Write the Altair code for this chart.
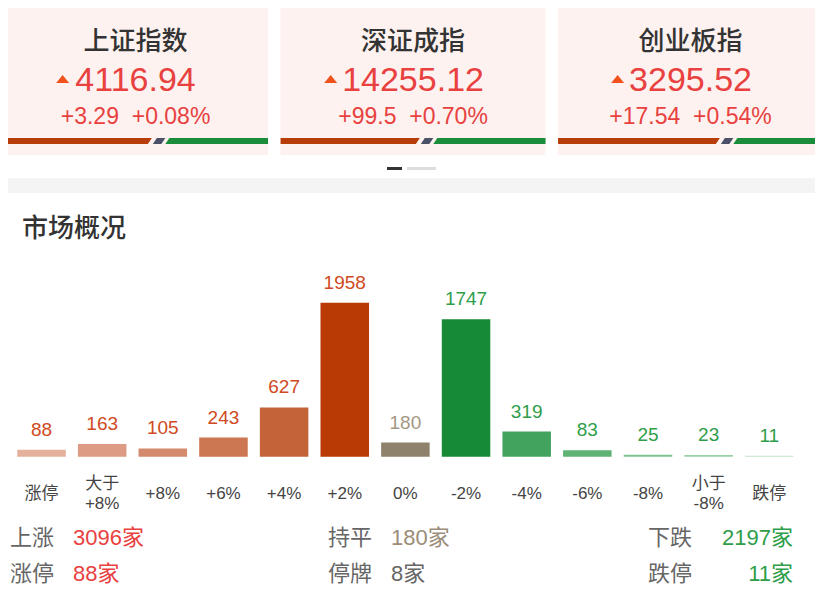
import altair as alt
import pandas as pd

# ---------------- data ----------------
INDEX_NAMES = ["上证指数", "深证成指", "创业板指"]
INDEX_VALUES = ["4116.94", "14255.12", "3295.52"]
INDEX_CHANGES = ["+3.29", "+99.5", "+17.54"]
INDEX_PCTS = ["+0.08%", "+0.70%", "+0.54%"]
UP_SHARE = [0.554, 0.518, 0.603]          # red part of the breadth stripe

CATEGORIES = ["涨停", "大于\n+8%", "+8%", "+6%", "+4%", "+2%", "0%",
              "-2%", "-4%", "-6%", "-8%", "小于\n-8%", "跌停"]
COUNTS = [88, 163, 105, 243, 627, 1958, 180, 1747, 319, 83, 25, 23, 11]

SUMMARY_LABELS = ["上涨", "涨停", "持平", "停牌", "下跌", "跌停"]
SUMMARY_VALUES = [3096, 88, 180, 8, 2197, 11]

# ---------------- styles ----------------
BAR_COLORS = ["#e6b19c", "#dc9b82", "#d48a6c", "#cd7652", "#c4623a", "#b93a05",
              "#8e826c", "#168a35", "#42a35e", "#5db274", "#7dc291", "#98d0a7", "#c2e3ca"]
LABEL_COLORS = ["#cf4a22"] * 6 + ["#a39884"] + ["#2f9e4a"] * 6
SUMMARY_COLORS = ["#e8413f", "#e8413f", "#9b8d78", "#666666", "#2f9e4a", "#2f9e4a"]
RED = "#e8413f"
FONT = "Liberation Sans, Noto Sans CJK SC"
CJK = "Noto Sans CJK SC"

STEP = 277.5
cx = alt.Scale(domain=[0, 3], range=[-11.2, 821.3], zero=False, nice=False)

cards = pd.DataFrame({
    "i": [0, 1, 2],
    "name": INDEX_NAMES,
    "value": INDEX_VALUES,
    "sub": [c + "\u00a0\u00a0" + p for c, p in zip(INDEX_CHANGES, INDEX_PCTS)],
    "up": UP_SHARE,
})

base_cards = alt.Chart(cards).transform_calculate(
    x0="datum.i + 0.0225",
    x1="datum.i + 0.9775",
    c="datum.i + 0.5",
    r="datum.i + 0.0225 + datum.up * 0.955",
)

card_bg = base_cards.mark_rect(color="#fdf2ef").encode(
    x=alt.X("x0:Q", scale=cx, axis=None), x2="x1:Q",
    y=alt.value(-8), y2=alt.value(147),
)

card_title = base_cards.mark_text(font=CJK, fontSize=26, fontWeight=500, color="#333333",
                                  baseline="alphabetic").encode(
    x=alt.X("c:Q", scale=cx, axis=None), y=alt.value(42), text="name:N")

card_num = base_cards.mark_text(font=FONT, fontSize=34, color=RED, baseline="alphabetic").encode(
    x=alt.X("c:Q", scale=cx, axis=None), y=alt.value(83), text="value:N")

card_sub = base_cards.mark_text(font=FONT, fontSize=23, color=RED, baseline="alphabetic").encode(
    x=alt.X("c:Q", scale=cx, axis=None), y=alt.value(116), text="sub:N")

card_tri = base_cards.transform_calculate(
    tx="datum.i + 0.5 - (34*(0.556*(length(datum.value)-1)+0.278)/2 + 11.5)/%f" % STEP
).mark_point(shape="M-1,0.6L1,0.6L0,-0.6Z", filled=True, size=169, opacity=1,
             color="#f0521e").encode(
    x=alt.X("tx:Q", scale=cx, axis=None), y=alt.value(71))

# breadth stripe: slanted parallelogram segments (edge 0 = top, 1 = bottom)
edges = alt.Chart(cards).transform_calculate(
    x0="datum.i + 0.0225",
    x1="datum.i + 0.9775",
    r="datum.i + 0.0225 + datum.up * 0.955",
    edge="[0, 1]",
).transform_flatten(["edge"]).transform_calculate(
    yy="130 + 6*datum.edge",
    sl="(2 - 4*datum.edge)/%f" % STEP,
)


def stripe(left_expr, right_expr, color):
    return edges.transform_calculate(
        xl=left_expr, xr=right_expr
    ).mark_area(orient="horizontal", color=color, opacity=1).encode(
        y=alt.Y("yy:Q", scale=None, axis=None),
        x=alt.X("xl:Q", scale=cx, axis=None),
        x2="xr:Q",
        detail="i:N",
    )


stripe_red = stripe("datum.x0", "datum.r + datum.sl", "#b83c08")
stripe_slate = stripe("datum.r + datum.sl + 5/%f" % STEP, "datum.r + datum.sl + 13.5/%f" % STEP, "#4b5066")
stripe_green = stripe("datum.r + datum.sl + 17.5/%f" % STEP, "datum.x1", "#1b8d3a")

one = pd.DataFrame({"k": [0]})
dash_dark = alt.Chart(one).mark_rect(color="#333333").encode(
    x=alt.value(379), x2=alt.value(394), y=alt.value(159), y2=alt.value(162))
dash_light = alt.Chart(one).mark_rect(color="#dddddd").encode(
    x=alt.value(399), x2=alt.value(428), y=alt.value(159), y2=alt.value(162))
gray_band = alt.Chart(one).mark_rect(color="#f4f4f4").encode(
    x=alt.value(-10), x2=alt.value(820), y=alt.value(170), y2=alt.value(185))

section_title = alt.Chart(pd.DataFrame({"t": ["市场概况"]})).mark_text(
    font=CJK, fontSize=26, fontWeight=500, color="#333333", align="left", baseline="middle"
).encode(x=alt.value(14), y=alt.value(221), text="t:N")

# ---------------- distribution bars ----------------
dist = pd.DataFrame({"cat": CATEGORIES, "count": COUNTS})
xband = alt.Scale(domain=CATEGORIES, range=[3.2, 791.6], paddingInner=0.2, paddingOuter=0.1)
ylin = alt.Scale(domain=[0, 1958], range=[448.7, 294.7], zero=True, nice=False)

bars = alt.Chart(dist).mark_bar().encode(
    x=alt.X("cat:N", scale=xband, axis=None, sort=CATEGORIES),
    y=alt.Y("count:Q", scale=ylin, axis=None),
    color=alt.Color("cat:N", scale=alt.Scale(domain=CATEGORIES, range=BAR_COLORS), legend=None),
)

bar_labels = alt.Chart(dist).mark_text(font=FONT, fontSize=19, baseline="alphabetic", dy=-14).encode(
    x=alt.X("cat:N", scale=xband, axis=None, sort=CATEGORIES),
    y=alt.Y("count:Q", scale=ylin, axis=None),
    text="count:Q",
    color=alt.Color("cat:N", scale=alt.Scale(domain=CATEGORIES, range=LABEL_COLORS), legend=None),
)

cat_single = alt.Chart(dist).transform_filter("indexof(datum.cat, '\\n') < 0").mark_text(
    font=FONT, fontSize=17, baseline="middle", color="#444444").encode(
    x=alt.X("cat:N", scale=xband, axis=None, sort=CATEGORIES),
    y=alt.value(485.5),
    text="cat:N",
)
cat_double = alt.Chart(dist).transform_filter("indexof(datum.cat, '\\n') >= 0").mark_text(
    font=FONT, fontSize=17, lineBreak="\n", lineHeight=19.5, baseline="middle",
    color="#444444").encode(
    x=alt.X("cat:N", scale=xband, axis=None, sort=CATEGORIES),
    y=alt.value(476),
    text="cat:N",
)

# ---------------- summary ----------------
LABEL_X = [2, 2, 320, 320, 640, 640]
VALUE_X = [65, 65, 383, 383, 785, 785]
VALUE_ALIGN = ["left", "left", "left", "left", "right", "right"]
ROW_Y = [530, 565.5, 530, 565.5, 530, 565.5]

summary_layers = []
for k in range(6):
    d = pd.DataFrame({"lab": [SUMMARY_LABELS[k]], "val": ["%d家" % SUMMARY_VALUES[k]]})
    summary_layers.append(alt.Chart(d).mark_text(
        font=FONT, fontSize=22, color="#666666", align="left", baseline="middle"
    ).encode(x=alt.value(LABEL_X[k]), y=alt.value(ROW_Y[k]), text="lab:N"))
    summary_layers.append(alt.Chart(d).mark_text(
        font=FONT, fontSize=22, color=SUMMARY_COLORS[k], align=VALUE_ALIGN[k], baseline="middle"
    ).encode(x=alt.value(VALUE_X[k]), y=alt.value(ROW_Y[k]), text="val:N"))

chart = alt.layer(
    card_bg, stripe_red, stripe_slate, stripe_green, card_title, card_num, card_sub, card_tri,
    dash_dark, dash_light, gray_band, section_title,
    bars, bar_labels, cat_single, cat_double, *summary_layers
).resolve_scale(
    x="independent", y="independent", color="independent"
).properties(
    width=807, height=595, padding=0, background="white",
    autosize=alt.AutoSizeParams(type="none"),
).configure_view(stroke=None)

chart.save("out.html", embed_options={"renderer": "svg", "actions": False})
